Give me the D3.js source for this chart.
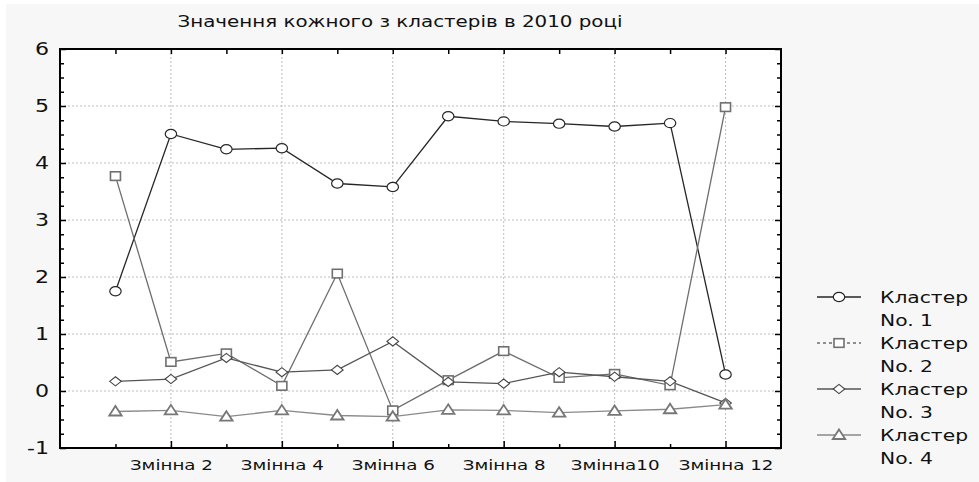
<!DOCTYPE html>
<html><head><meta charset="utf-8">
<script src="https://cdn.jsdelivr.net/npm/d3@7"></script>
<style>body{margin:0;background:#fff} text{font-family:"DejaVu Sans",Verdana,sans-serif;fill:#111}</style>
</head><body>
<svg id="c" width="979" height="482"></svg>
<script>
const title = "Значення кожного з кластерів в 2010 році";
const variables = [1,2,3,4,5,6,7,8,9,10,11,12];
const xTickValues = [2,4,6,8,10,12];
const xTickLabels = ["Змінна 2","Змінна 4","Змінна 6","Змінна 8","Змінна10","Змінна 12"];
const yTicks = [-1,0,1,2,3,4,5,6];
const seriesNames = ["Кластер No. 1","Кластер No. 2","Кластер No. 3","Кластер No. 4"];
const cluster1 = [1.75,4.51,4.24,4.26,3.64,3.58,4.82,4.73,4.69,4.64,4.70,0.29];
const cluster2 = [3.77,0.51,0.66,0.09,2.06,-0.34,0.19,0.70,0.23,0.30,0.10,4.98];
const cluster3 = [0.17,0.21,0.58,0.33,0.37,0.87,0.16,0.13,0.33,0.25,0.17,-0.21];
const cluster4 = [-0.36,-0.34,-0.45,-0.34,-0.43,-0.45,-0.33,-0.34,-0.38,-0.35,-0.32,-0.24];

const svg = d3.select("#c");
const W = 979, H = 482;
const m = {l:60, r:781, t:49, b:448};
svg.append("rect").attr("x",6).attr("y",4).attr("width",W-6).attr("height",H-4).attr("fill","#f7f7f7");
svg.append("rect").attr("x",m.l).attr("y",m.t).attr("width",m.r-m.l).attr("height",m.b-m.t).attr("fill","#fff");

const x = d3.scaleLinear().domain([0,13]).range([m.l,m.r]);
const y = d3.scaleLinear().domain([-1,6]).range([m.b,m.t]);

// horizontal stretch of text (the reference renders wide glyphs)
function stretch(sel, f){
  sel.each(function(){
    const w = this.getComputedTextLength();
    this.setAttribute("textLength", (w*f).toFixed(2));
    this.setAttribute("lengthAdjust","spacingAndGlyphs");
  });
}
function widthOf(txt, size){
  const t = svg.append("text").attr("font-size",size).text(txt);
  const w = t.node().getComputedTextLength(); t.remove(); return w;
}

// grid
const g = svg.append("g");
g.selectAll("line.h").data(yTicks.filter(d=>d>-1&&d<6)).join("line")
  .attr("x1",m.l).attr("x2",m.r).attr("y1",d=>y(d)).attr("y2",d=>y(d))
  .attr("stroke","#bdbdbd").attr("stroke-width",1).attr("stroke-dasharray","2,2");
g.selectAll("line.v").data(xTickValues).join("line")
  .attr("y1",m.t).attr("y2",m.b).attr("x1",d=>x(d)).attr("x2",d=>x(d))
  .attr("stroke","#bdbdbd").attr("stroke-width",1).attr("stroke-dasharray","2,2");

const minorY = d3.range(-1,6.001,0.25).filter(v=>Math.abs(v-Math.round(v))>0.01);
function styleAxis(sel){ sel.select(".domain").remove(); sel.selectAll(".tick line").attr("stroke","#000").attr("stroke-width",1.5); }
svg.append("g").attr("transform",`translate(${m.l},0)`)
  .call(d3.axisLeft(y).tickValues(yTicks).tickSize(-6).tickPadding(11).tickFormat(d=>d))
  .call(styleAxis)
  .call(s=>s.selectAll("text").attr("font-size",17).attr("font-family","DejaVu Sans").attr("fill","#111"))
  .call(s=>stretch(s.selectAll("text"),1.3));
svg.append("g").attr("transform",`translate(${m.l},0)`)
  .call(d3.axisLeft(y).tickValues(minorY).tickSize(-4).tickFormat(""))
  .call(styleAxis);
svg.append("g").attr("transform",`translate(${m.r},0)`)
  .call(d3.axisRight(y).tickValues(yTicks).tickSize(-6).tickFormat(""))
  .call(styleAxis);
svg.append("g").attr("transform",`translate(${m.r},0)`)
  .call(d3.axisRight(y).tickValues(minorY).tickSize(-4).tickFormat(""))
  .call(styleAxis);
const xf = 83 / widthOf(xTickLabels[0],14);
svg.append("g").attr("transform",`translate(0,${m.b})`)
  .call(d3.axisBottom(x).tickValues(xTickValues).tickSize(-7).tickPadding(12).tickFormat((d,i)=>xTickLabels[i]))
  .call(styleAxis)
  .call(s=>s.selectAll("text").attr("font-size",14).attr("font-family","DejaVu Sans").attr("fill","#111"))
  .call(s=>stretch(s.selectAll("text"),xf));
svg.append("g").attr("transform",`translate(0,${m.b})`)
  .call(d3.axisBottom(x).tickValues(variables.filter(v=>v%2===1)).tickSize(-4).tickFormat(""))
  .call(styleAxis);
svg.append("g").attr("transform",`translate(0,${m.t})`)
  .call(d3.axisTop(x).tickValues(variables).tickSize(-5).tickFormat(""))
  .call(styleAxis);
svg.append("rect").attr("x",m.l).attr("y",m.t).attr("width",m.r-m.l).attr("height",m.b-m.t)
  .attr("fill","none").attr("stroke","#000").attr("stroke-width",2);

// title
const tf = 445 / widthOf(title,15);
svg.append("text").attr("x",400).attr("y",27).attr("text-anchor","middle")
  .attr("font-size",15).text(title).call(s=>stretch(s,tf));

const series = [
  {name:seriesNames[0], values:cluster1, line:"#262626", mark:"#262626", shape:"circle", sw:1.2},
  {name:seriesNames[1], values:cluster2, line:"#6e6e6e", mark:"#707070", shape:"square", dash:"3,3", sw:1.6},
  {name:seriesNames[2], values:cluster3, line:"#555", mark:"#444", shape:"diamond", sw:1.1},
  {name:seriesNames[3], values:cluster4, line:"#8a8a8a", mark:"#777", shape:"triangle", sw:1.8}
];
function marker(sel, s){
  let el;
  if(s.shape==="circle") el = sel.append("ellipse").attr("rx",5.7).attr("ry",4.6);
  else if(s.shape==="square") el = sel.append("rect").attr("x",-5).attr("y",-4.3).attr("width",10).attr("height",8.6);
  else if(s.shape==="diamond") el = sel.append("path").attr("d","M-5.8,0L0,-4.6L5.8,0L0,4.6Z");
  else el = sel.append("path").attr("d","M0,-5.5L6.2,4L-6.2,4Z");
  el.attr("fill","#fff").attr("stroke",s.mark).attr("stroke-width",s.sw);
}
const line = d3.line().x((d,i)=>x(variables[i])).y(d=>y(d));
series.forEach(s=>{
  svg.append("path").attr("d",line(s.values)).attr("fill","none").attr("stroke",s.line).attr("stroke-width",1.3);
});
series.forEach(s=>{
  s.values.forEach((v,i)=>{
    const gg = svg.append("g").attr("transform",`translate(${x(variables[i])},${y(v)})`);
    marker(gg, s);
  });
});

// legend
const lf = 88 / widthOf("Кластер",15);
const lg = svg.append("g");
series.forEach((s,i)=>{
  const cy = 297 + i*46;
  const row = lg.append("g").attr("transform",`translate(0,${cy})`);
  row.append("line").attr("x1",817).attr("x2",861).attr("y1",0).attr("y2",0)
    .attr("stroke",s.line).attr("stroke-width",1.3).attr("stroke-dasharray",s.dash||null);
  const mg = row.append("g").attr("transform","translate(839,0)");
  marker(mg, s);
  const parts = s.name.split(" No. ");
  row.append("text").attr("x",880).attr("y",6).attr("font-size",15).text(parts[0]).call(t=>stretch(t,lf));
  row.append("text").attr("x",880).attr("y",29).attr("font-size",15).text("No. "+parts[1]).call(t=>stretch(t,lf));
});
</script>
</body></html>
